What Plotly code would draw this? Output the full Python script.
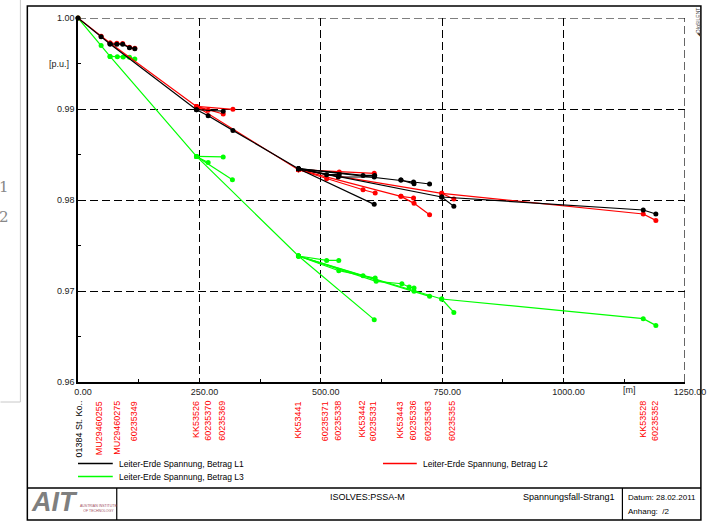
import plotly.graph_objects as go

# ---------------- data ----------------
# Phase L1 (black): branches separated by None  (x in m, y in p.u.)
L1_x = [0, 47.6, 66, 244, 268, 319, 454, None,
        66, 80, 92, 106, 117, None,
        244, 299, None,
        454, 512, 538, None,
        454, 536, 610, None,
        454, 587, 611, None,
        454, 610, None,
        454, 665, 691, 724, None,
        665, 692, None,
        454, 749, 1164, 1190, None,
        749, 774]
L1_y = [1.0, 0.99795, 0.99714, 0.98992, 0.98926, 0.98765, 0.98344, None,
        0.99714, 0.99712, 0.99712, 0.99672, 0.99663, None,
        0.98992, 0.98976, None,
        0.98344, 0.98278, 0.98278, None,
        0.98344, 0.98253, 0.98253, None,
        0.98344, 0.98270, 0.98270, None,
        0.98344, 0.97952, None,
        0.98344, 0.98220, 0.98198, 0.98176, None,
        0.98220, 0.98178, None,
        0.98344, 0.98033, 0.97890, 0.97846, None,
        0.98033, 0.97930]

# Phase L2 (red)
L2_x = [0, 47.6, 66, 244, 454, None,
        66, 80, 92, 106, 117, None,
        244, 268, None,
        244, 299, None,
        244, 319, None,
        454, 538, 610, None,
        454, 512, 587, 612, None,
        454, 665, 691, None,
        665, 692, 724, None,
        454, 749, 1164, 1190, None,
        749, 774]
L2_y = [1.0, 0.99800, 0.99725, 0.99028, 0.98333, None,
        0.99725, 0.99722, 0.99720, 0.99678, 0.99668, None,
        0.99028, 0.98985, None,
        0.99028, 0.98945, None,
        0.99028, 0.98996, None,
        0.98333, 0.98308, 0.98293, None,
        0.98333, 0.98234, 0.98113, 0.98077, None,
        0.98333, 0.98040, 0.98022, None,
        0.98040, 0.97963, 0.97838, None,
        0.98333, 0.98073, 0.97846, 0.97776, None,
        0.98073, 0.98011]

# Phase L3 (green)
L3_x = [0, 47.6, 66, 244, 454, None,
        66, 81, 93, 106, 117, None,
        244, 299, None,
        244, 268, None,
        244, 318, None,
        454, 512, 537, None,
        454, 537, 587, 612, None,
        454, 614, 667, 682, 692, None,
        454, 692, 724, None,
        454, 749, 1164, 1190, None,
        749, 774, None,
        454, 610]
L3_y = [1.0, 0.99699, 0.99578, 0.98479, 0.97385, None,
        0.99578, 0.99575, 0.99571, 0.99570, 0.99549, None,
        0.98479, 0.98473, None,
        0.98479, 0.98413, None,
        0.98479, 0.98223, None,
        0.97385, 0.97336, 0.97336, None,
        0.97385, 0.97223, 0.97168, 0.97143, None,
        0.97385, 0.97106, 0.97080, 0.97044, 0.97033, None,
        0.97385, 0.96996, 0.96941, None,
        0.97385, 0.96912, 0.96696, 0.96622, None,
        0.96912, 0.96765, None,
        0.97385, 0.96685]

# node labels along the x axis
label_x = [0, 44, 80, 116, 242, 267, 296, 453, 509, 535, 583, 608,
           663, 689, 721, 770, 1162, 1188]
label_text = ["01384 St. Ko..", "MU29460255", "MU29460275", "60235349",
              "KK53526", "60235370", "60235369", "KK53441", "60235371",
              "60235338", "KK53442", "60235331", "KK53443", "60235336",
              "60235363", "60235355", "KK53528", "60235352"]

x_ticks = [0, 250, 500, 750, 1000, 1250]
x_ticktext = ["0.00", "250.00", "500.00", "750.00", "1000.00", "1250.00"]
x_minor = [125, 375, 625, 875, 1125]
y_ticks = [0.96, 0.97, 0.98, 0.99, 1.00]
y_ticktext = ["0.96", "0.97", "0.98", "0.99", "1.00"]
y_minor = [0.965, 0.975, 0.985, 0.995]

series_names = ["Leiter-Erde Spannung, Betrag L1",
                "Leiter-Erde Spannung, Betrag L2",
                "Leiter-Erde Spannung, Betrag L3"]
series_colors = ["#000000", "#ff0000", "#00ff00"]

# ---------------- layout helpers ----------------
W, H = 718, 523
ML, MR, MT, MB = 78, 29, 18, 141
PW, PH = W - ML - MR, H - MT - MB
FONT = "Liberation Sans, Arial, sans-serif"


def px(xp):
    return (xp - ML) / PW


def py(yp):
    return (MT + PH - yp) / PH


fig = go.Figure()
for xs, ys, name, col in [(L3_x, L3_y, series_names[2], series_colors[2]),
                          (L2_x, L2_y, series_names[1], series_colors[1]),
                          (L1_x, L1_y, series_names[0], series_colors[0])]:
    fig.add_trace(go.Scatter(x=xs, y=ys, mode="lines+markers", name=name,
                             line=dict(color=col, width=1.2),
                             marker=dict(color=col, size=5),
                             cliponaxis=False, showlegend=False))

shapes = []
shapes.append(dict(type="line", xref="x", yref="y", x0=0, x1=1250, y0=1.0, y1=1.0,
                   line=dict(color="black", width=1.2, dash="8px,4px")))
shapes.append(dict(type="line", xref="x", yref="y", x0=1250, x1=1250, y0=0.96, y1=1.0,
                   line=dict(color="black", width=1.2, dash="8px,4px")))
shapes.append(dict(type="rect", xref="paper", yref="paper", x0=px(27), x1=px(705),
                   y0=py(520), y1=py(6), line=dict(color="black", width=1.5)))
shapes.append(dict(type="line", xref="paper", yref="paper", x0=px(27), x1=px(705),
                   y0=py(488), y1=py(488), line=dict(color="black", width=1.5)))
for xv in [117, 626]:
    shapes.append(dict(type="line", xref="paper", yref="paper", x0=px(xv), x1=px(xv),
                       y0=py(488), y1=py(520), line=dict(color="black", width=1.2)))
shapes.append(dict(type="line", xref="paper", yref="paper", x0=px(20), x1=px(20),
                   y0=py(402), y1=py(0), line=dict(color="#c8c8c8", width=1)))
shapes.append(dict(type="line", xref="paper", yref="paper", x0=px(0), x1=px(20),
                   y0=py(402), y1=py(402), line=dict(color="#c8c8c8", width=1)))
for (x0, x1, yy, col) in [(78, 113, 463.5, series_colors[0]),
                          (385, 419, 463.5, series_colors[1]),
                          (78, 113, 476.5, series_colors[2])]:
    shapes.append(dict(type="line", xref="paper", yref="paper", x0=px(x0), x1=px(x1),
                       y0=py(yy), y1=py(yy), line=dict(color=col, width=1.5)))

ann = []
for lx, lt in zip(label_x, label_text):
    ann.append(dict(x=lx, xref="x", y=py(399), yref="paper", text=lt, textangle=-90,
                    showarrow=False, xanchor="center", yanchor="top",
                    font=dict(family=FONT, size=9,
                              color="#000000" if lt.startswith("01384") else "#ff0000")))

ann.append(dict(x=0, xref="paper", xshift=-7, y=0.995, yref="y", text="[p.u.]",
                showarrow=False, xanchor="right", yanchor="middle",
                font=dict(family=FONT, size=9, color="#222")))
ann.append(dict(x=1125, xref="x", xshift=5, y=py(389.5), yref="paper", text="[m]",
                showarrow=False, xanchor="center", yanchor="middle",
                font=dict(family=FONT, size=9, color="#222")))

for (xl, yl, t) in [(117, 463.5, series_names[0]), (423, 463.5, series_names[1]),
                    (117, 476.5, series_names[2])]:
    ann.append(dict(x=px(xl), xref="paper", y=py(yl), yref="paper", text=t,
                    showarrow=False, xanchor="left", yanchor="middle",
                    font=dict(family=FONT, size=8.5, color="#000")))

ann.append(dict(x=px(369), y=py(497), xref="paper", yref="paper", text="ISOLVES:PSSA-M",
                showarrow=False, xanchor="center", yanchor="middle",
                font=dict(family=FONT, size=9, color="#000")))
ann.append(dict(x=px(621), y=py(497), xref="paper", yref="paper", text="Spannungsfall-Strang1",
                showarrow=False, xanchor="right", yanchor="middle",
                font=dict(family=FONT, size=9, color="#000")))
ann.append(dict(x=px(630), y=py(497.5), xref="paper", yref="paper", text="Datum: 28.02.2011",
                showarrow=False, xanchor="left", yanchor="middle",
                font=dict(family=FONT, size=8, color="#000")))
ann.append(dict(x=px(630), y=py(511.5), xref="paper", yref="paper", text="Anhang:  /2",
                showarrow=False, xanchor="left", yanchor="middle",
                font=dict(family=FONT, size=8, color="#000")))
ann.append(dict(x=px(29), y=py(502), xref="paper", yref="paper", text="<b><i>AIT</i></b>",
                showarrow=False, xanchor="left", yanchor="middle",
                font=dict(family=FONT, size=27, color="#7f7f7f")))
ann.append(dict(x=px(78), y=py(508.5), xref="paper", yref="paper",
                text="AUSTRIAN INSTITUTE<br>OF TECHNOLOGY",
                showarrow=False, xanchor="left", yanchor="middle",
                font=dict(family=FONT, size=3.5, color="#a05060")))
ann.append(dict(x=px(702), y=py(22), xref="paper", yref="paper", text="◢DIgSILENT",
                textangle=-90, showarrow=False, xanchor="center", yanchor="middle",
                font=dict(family=FONT, size=5, color="#333")))
ann.append(dict(x=px(4), y=py(187), xref="paper", yref="paper", text="1",
                showarrow=False, xanchor="center", yanchor="middle",
                font=dict(family="DejaVu Serif", size=15, color="#888")))
ann.append(dict(x=px(4), y=py(217), xref="paper", yref="paper", text="2",
                showarrow=False, xanchor="center", yanchor="middle",
                font=dict(family="DejaVu Serif", size=15, color="#888")))

fig.update_layout(
    width=W, height=H,
    margin=dict(l=ML, r=MR, t=MT, b=MB, pad=0),
    paper_bgcolor="white", plot_bgcolor="white",
    showlegend=False,
    shapes=shapes, annotations=ann,
    font=dict(family=FONT, size=9, color="#222"),
    xaxis=dict(range=[0, 1250], tickmode="array", tickvals=x_ticks, ticktext=x_ticktext,
               ticks="inside", ticklen=4, tickcolor="black", ticklabelshift=5,
               showline=True, linecolor="black", linewidth=1.5, zeroline=False,
               showgrid=True, gridcolor="black", gridwidth=1.2, griddash="8px,4px",
               minor=dict(tickvals=x_minor, ticks="inside", ticklen=3, tickcolor="black",
                          showgrid=False),
               tickfont=dict(family=FONT, size=9, color="#222")),
    yaxis=dict(range=[0.96, 1.0], tickmode="array", tickvals=y_ticks, ticktext=y_ticktext,
               ticks="inside", ticklen=4, tickcolor="black",
               showline=True, linecolor="black", linewidth=1.5, zeroline=False,
               showgrid=True, gridcolor="black", gridwidth=1.2, griddash="8px,4px",
               minor=dict(tickvals=y_minor, ticks="inside", ticklen=3, tickcolor="black",
                          showgrid=False),
               tickfont=dict(family=FONT, size=9, color="#222")),
)

fig.write_html("out.html", config={"displayModeBar": False},
               post_script="document.body.style.margin='0';document.body.style.overflow='hidden';")
